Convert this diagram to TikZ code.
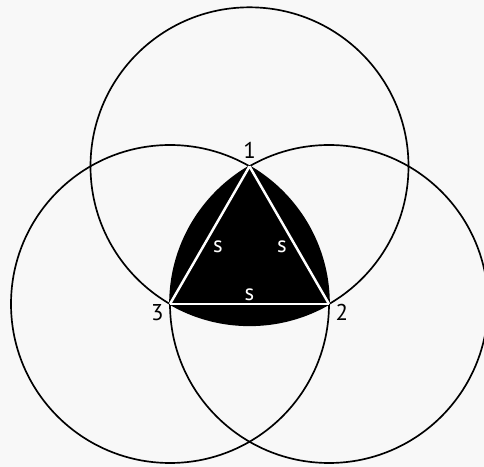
\documentclass[tikz,border=0pt]{standalone}
\usepackage{fontspec}
\setmainfont{PT Sans}
\usetikzlibrary{positioning,calc}
\definecolor{paper}{RGB}{248,248,248}

\begin{document}
\begin{tikzpicture}[
    x=0.02cm, y=0.02cm,
    ring/.style={draw=black, line width=0.95pt},
    side/.style={draw=white, line width=1.4pt},
    vlabel/.style={font=\fontsize{13}{15}\selectfont, inner sep=1pt},
    slabel/.style={font=\fontsize{13}{15}\selectfont, text=white, inner sep=1pt}
]
    \fill[paper] (0,0) rectangle (484,467);
    \useasboundingbox (0,0) rectangle (484,467);
    \def\s{159}

    % vertices of the triangle
    \coordinate (v3) at (170,163);
    \coordinate (v2) at (329,163);
    \coordinate (v1) at (249.5,300.7);
    \coordinate (m23) at ($(v3)!0.5!(v2)$);

    % Reuleaux triangle
    \fill[black] (v1) arc[start angle=60, end angle=0, radius=\s]
        arc[start angle=-60, end angle=-120, radius=\s]
        arc[start angle=180, end angle=120, radius=\s] -- cycle;

    % circles of radius s
    \draw[ring] (v1) circle[radius=\s];
    \draw[ring] (v2) circle[radius=\s];
    \draw[ring] (v3) circle[radius=\s];

    % sides
    \draw[side] (v1) -- (v2);
    \draw[side] (v2) -- (v3);
    \draw[side] (v3) -- (v1);

    % labels
    \node[vlabel, above=3pt of v1] (n1) {1};
    \node[vlabel, below right=-1pt and 2.5pt of v2] (n2) {2};
    \node[vlabel, below left=-1pt and 2.5pt of v3] (n3) {3};
    \node[slabel] (s31) at (218,220) {s};
    \node[slabel] (s12) at (282,220) {s};
    \node[slabel, above=0.5pt of m23] (s23) {s};
\end{tikzpicture}
\end{document}
